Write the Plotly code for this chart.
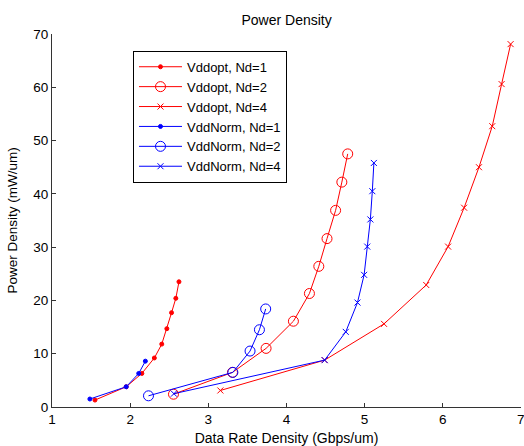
import plotly.graph_objects as go

# Vddopt (red)
opt_nd1_x = [1.55, 1.95, 2.15, 2.31, 2.405, 2.47, 2.53, 2.585, 2.625]
opt_nd1_y = [1.3, 3.8, 6.3, 9.2, 11.8, 14.7, 17.7, 20.4, 23.5]
opt_nd2_x = [2.555, 3.31, 3.74, 4.09, 4.295, 4.415, 4.52, 4.63, 4.71, 4.785]
opt_nd2_y = [2.4, 6.5, 11.0, 16.1, 21.3, 26.4, 31.6, 36.9, 42.2, 47.5]
opt_nd4_x = [3.155, 4.49, 5.25, 5.79, 6.07, 6.275, 6.465, 6.635, 6.755, 6.87]
opt_nd4_y = [3.1, 8.8, 15.6, 22.9, 30.1, 37.4, 45.0, 52.7, 60.6, 68.1]

# VddNorm (blue)
norm_nd1_x = [1.485, 1.95, 2.11, 2.195]
norm_nd1_y = [1.5, 3.8, 6.3, 8.6]
norm_nd2_x = [2.235, 3.315, 3.535, 3.655, 3.735]
norm_nd2_y = [2.1, 6.5, 10.5, 14.5, 18.4]
norm_nd4_x = [2.56, 4.49, 4.76, 4.91, 4.995, 5.035, 5.075, 5.1, 5.12]
norm_nd4_y = [2.5, 8.8, 14.1, 19.6, 24.8, 30.1, 35.2, 40.5, 45.8]

x_ticks = [1, 2, 3, 4, 5, 6, 7]
y_ticks = [0, 10, 20, 30, 40, 50, 60, 70]

RED = "#FF0000"
BLUE = "#0000FF"

series = [
    ("Vddopt, Nd=1", opt_nd1_x, opt_nd1_y, RED, "circle", 4),
    ("Vddopt, Nd=2", opt_nd2_x, opt_nd2_y, RED, "circle-open", 10),
    ("Vddopt, Nd=4", opt_nd4_x, opt_nd4_y, RED, "x-thin-open", 6),
    ("VddNorm, Nd=1", norm_nd1_x, norm_nd1_y, BLUE, "circle", 4),
    ("VddNorm, Nd=2", norm_nd2_x, norm_nd2_y, BLUE, "circle-open", 10),
    ("VddNorm, Nd=4", norm_nd4_x, norm_nd4_y, BLUE, "x-thin-open", 6),
]

fig = go.Figure()
for name, xs, ys, col, sym, sz in series:
    fig.add_trace(go.Scatter(
        x=xs, y=ys, name=name, mode="lines+markers",
        line=dict(color=col, width=1),
        marker=dict(symbol=sym, size=sz, color=col, line=dict(color=col, width=1)),
    ))

FONT = "Liberation Sans, Arial, sans-serif"
AX = "#333333"
fig.update_layout(
    width=524, height=446,
    margin=dict(l=52, r=3, t=34, b=39),
    paper_bgcolor="white", plot_bgcolor="white",
    font=dict(family=FONT, size=13, color="black"),
    title=dict(text="Power Density", x=0.547, xanchor="center",
               y=1 - 20 / 446, yanchor="middle", yref="container",
               font=dict(size=14)),
    showlegend=True,
    legend=dict(x=0.1727, y=0.955, xanchor="left", yanchor="top",
                bordercolor="black", borderwidth=1, bgcolor="white",
                font=dict(size=13), tracegroupgap=0, itemwidth=43),
    xaxis=dict(range=[1, 7.003], tickvals=x_ticks, ticktext=[str(v) for v in x_ticks],
               showgrid=False, zeroline=False, showline=True, linecolor=AX,
               linewidth=1, ticks="inside", ticklen=4, tickcolor=AX,
               automargin=False, ticklabeloverflow="allow",
               title=dict(text="Data Rate Density (Gbps/um)", standoff=6,
                          font=dict(size=14)),
               tickfont=dict(size=13.5)),
    yaxis=dict(range=[0, 70], tickvals=y_ticks, ticktext=[str(v) for v in y_ticks],
               showgrid=False, zeroline=False, showline=True, linecolor=AX,
               linewidth=1, ticks="inside", ticklen=4, tickcolor=AX,
               automargin=False, ticklabeloverflow="allow",
               title=dict(text="Power Density (mW/um)", standoff=12,
                          font=dict(size=13.5)),
               tickfont=dict(size=13.5)),
)

fig.write_html("out.html", config={"displayModeBar": False},
               post_script="document.body.style.margin='0';document.body.style.overflow='hidden';")
